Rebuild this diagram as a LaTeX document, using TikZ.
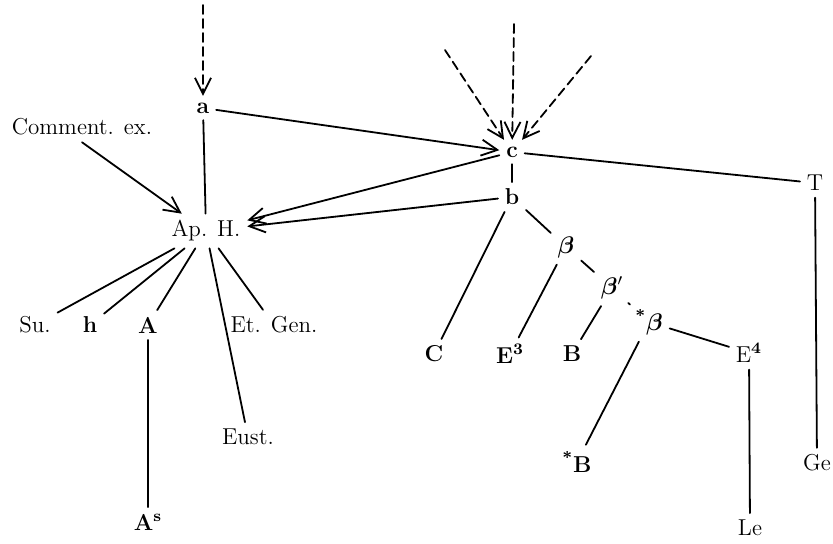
\documentclass[tikz,border=0pt]{standalone}
\usepackage{amsmath}
\usepackage{amssymb}
\usepackage{bm}
\usepackage{tikz}
\usetikzlibrary{arrows.meta}

\begin{document}
\begin{tikzpicture}[line cap=round,line join=round,x=0.5pt,y=-0.5pt,line width=0.9pt,
  >={Straight Barb[length=8pt,width=8pt]},
  every node/.style={font=\fontsize{11.5}{13}\selectfont,inner sep=3pt},
  ms/.style={font=\fontsize{11.5}{13}\selectfont\bfseries},
  dsh/.style={dash pattern=on 4.5pt off 2.5pt}]
\useasboundingbox (0,0) rectangle (833,543);
% sources
\node[ms] (a) at (203,108) {a};
\node[ms] (c) at (512,152) {c};
\node[ms] (b) at (512,197) {b};
\node (comm) at (82,127) {Comment. ex.};
\node (aph) at (206,231) {Ap. H.};
\node (T) at (815,183) {T};
\node (Ge) at (817,463) {Ge};
% left family
\node (su) at (35,325) {Su.};
\node[ms] (h) at (90,325) {h};
\node[ms] (A) at (148,325) {A};
\node (etgen) at (274,325) {Et. Gen.};
\node (eust) at (248,437) {Eust.};
\node[ms] (As) at (148,522) {A\textsuperscript{s}};
% right family
\node[ms] (C) at (434,354) {C};
\node[ms] (E3) at (510,354) {E\textsuperscript{3}};
\node (beta) at (566,247) {$\bm{\beta}$};
\node (betap) at (612,288) {$\bm{\beta}'$};
\node (sbeta) at (649,322) {\textsuperscript{\bfseries *}$\bm{\beta}$};
\node[ms] (B) at (572,354) {B};
\node[ms] (sB) at (577,462) {\textsuperscript{*}B};
\node (E4) at (749,353) {E\textsuperscript{\bfseries 4}};
\node (Le) at (750,528) {Le};
\coordinate (ta) at (203,5);
\coordinate (tc1) at (445,50);
\coordinate (tc2) at (514,24);
\coordinate (tc3) at (591,56);

\draw [dsh,->] (ta) -- (a);
\draw [dsh,->] (tc1) -- (c);
\draw [dsh,->] (tc2) -- (c);
\draw [dsh,->] (tc3) -- (c);
\draw [->] (a) -- (c);
\draw [->] (comm.south) -- (aph);
\draw (a) -- (aph);
\draw [->] (c) -- (aph);
\draw [->] (b) -- (aph);
\draw (c) -- (b);
\draw (c) -- (T);
\draw (T) -- (Ge);
\draw (aph) -- (su);
\draw (aph) -- (h);
\draw (aph) -- (A);
\draw (aph) -- (eust);
\draw (aph) -- (etgen);
\draw (A) -- (As);
\draw (b) -- (C);
\draw (b) -- (beta);
\draw (beta) -- (E3);
\draw (beta) -- (betap);
\draw (betap) -- (B);
\draw (betap) -- (sbeta);
\draw (sbeta) -- (sB);
\draw (sbeta) -- (E4);
\draw (E4) -- (Le);
\end{tikzpicture}
\end{document}
